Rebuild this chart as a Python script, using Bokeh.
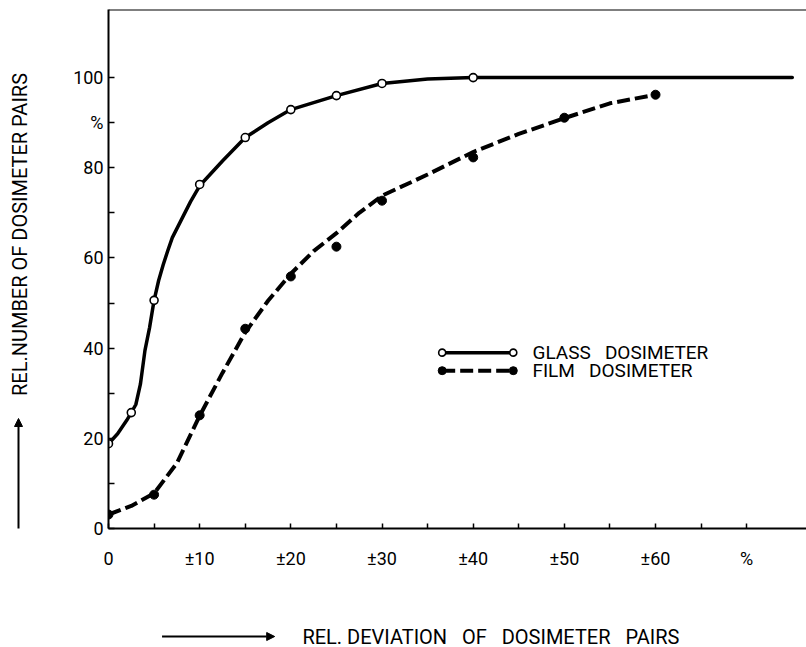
from bokeh.plotting import figure
from bokeh.layouts import row, column
from bokeh.models import Range1d, FixedTicker, Label, Arrow, NormalHead, Span
from bokeh.embed import file_html
from bokeh.resources import INLINE

glass_x = [0, 2.5, 5, 10, 15, 20, 25, 30, 40]
glass_y = [18.8, 25.7, 50.6, 76.3, 86.7, 92.9, 96.0, 98.7, 100]
film_x = [0, 5, 10, 15, 20, 25, 30, 40, 50, 60]
film_y = [3.1, 7.5, 25.1, 44.3, 55.9, 62.5, 72.7, 82.3, 91.1, 96.2]

# drawn curves
glass_curve_x = [0, 1, 2, 2.5, 3, 3.5, 4, 4.5, 5, 5.5, 6, 6.5, 7, 8, 9, 10, 12.5, 15, 17.5, 20, 25, 30, 35, 40, 75]
glass_curve_y = [18.8, 21, 24, 25.7, 27.5, 32, 39.5, 44.5, 50.6, 55, 58.5, 61.6, 64.5, 68.5, 72.5, 76, 81.5, 86.7, 90, 92.9, 96, 98.7, 99.7, 100, 100]
film_curve_x = [0, 2.5, 5, 7.5, 10, 12.5, 15, 17.5, 20, 22.5, 25, 27.5, 30, 35, 40, 45, 50, 55, 60]
film_curve_y = [3.1, 5, 7.8, 14.5, 25, 34.5, 43.5, 50.5, 56.5, 61.5, 65.5, 70, 73.8, 78.5, 83.5, 87.5, 91, 94.3, 96.2]

x_ticks = [0, 5, 10, 15, 20, 25, 30, 35, 40, 45, 50, 55, 60, 65, 70]
x_tick_labels = ["0", "", "±10", "", "±20", "", "±30", "", "±40", "", "±50", "", "±60", "", "%"]
y_ticks = [0, 10, 20, 30, 40, 50, 60, 70, 80, 90, 100]
y_tick_labels = ["0", "", "20", "", "40", "", "60", "", "80", "%", "100"]

x_title = "REL.\u00a0DEVIATION\u00a0\u00a0\u00a0OF\u00a0\u00a0\u00a0DOSIMETER\u00a0\u00a0\u00a0PAIRS"
y_title = "REL.NUMBER OF DOSIMETER PAIRS"
legend_labels = ["GLASS\u00a0\u00a0\u00a0DOSIMETER", "FILM\u00a0\u00a0\u00a0DOSIMETER"]

FONT = "Roboto"
X_END = 76.56
Y_END = 115.1
LEFT_W, MAIN_W = 50, 756
MAIN_H, BOTTOM_H = 580, 67
TOTAL_H = MAIN_H + BOTTOM_H


def strip(w, h):
    s = figure(width=w, height=h, output_backend="svg", toolbar_location=None,
               x_range=Range1d(0, w), y_range=Range1d(0, h),
               x_axis_location=None, y_axis_location=None,
               min_border_left=0, min_border_right=0, min_border_top=0, min_border_bottom=0)
    s.outline_line_color = None
    s.grid.visible = False
    return s


p = figure(width=MAIN_W, height=MAIN_H, output_backend="svg", toolbar_location=None,
           x_range=Range1d(0, X_END), y_range=Range1d(0, Y_END),
           min_border_left=58, min_border_right=0, min_border_top=9, min_border_bottom=52)
p.outline_line_color = None
p.grid.visible = False

for ax in (p.xaxis[0], p.yaxis[0]):
    ax.axis_line_width = 2
    ax.axis_line_color = "black"
    ax.major_tick_line_width = 1.5
    ax.major_tick_line_color = "black"
    ax.minor_tick_line_color = None
    ax.major_label_text_font = FONT
    ax.major_label_text_font_size = "18px"
    ax.major_label_text_color = "black"

p.xaxis.ticker = FixedTicker(ticks=x_ticks)
p.xaxis.major_label_overrides = {t: l for t, l in zip(x_ticks, x_tick_labels)}
p.xaxis.major_tick_in = 5
p.xaxis.major_tick_out = 0
p.xaxis.major_label_standoff = 19

p.yaxis.ticker = FixedTicker(ticks=y_ticks)
p.yaxis.major_label_overrides = {t: l for t, l in zip(y_ticks, y_tick_labels)}
p.yaxis.major_tick_in = 6
p.yaxis.major_tick_out = 0
p.yaxis.major_label_standoff = 5

p.add_layout(Span(location=Y_END, dimension="width", line_color="black", line_width=2))

# curves
p.line(glass_curve_x, glass_curve_y, line_color="black", line_width=3.5, line_join="round", line_cap="round")
p.line(film_curve_x, film_curve_y, line_color="black", line_width=4, line_dash="13 5")
p.scatter(glass_x, glass_y, marker="circle", size=8, fill_color="white", line_color="black", line_width=1.6)
p.scatter(film_x, film_y, marker="circle", size=9, fill_color="black", line_color="black")

# legend keys
leg_x = [36.6, 44.4]
p.line(leg_x, [39.0, 39.0], line_color="black", line_width=3.5)
p.scatter(leg_x, [39.0, 39.0], marker="circle", size=7, fill_color="white", line_color="black", line_width=1.6)
p.line(leg_x, [35.0, 35.0], line_color="black", line_width=4, line_dash="13 5")
p.scatter(leg_x, [35.0, 35.0], marker="circle", size=8, fill_color="black", line_color="black")
for yy, txt in zip([39.0, 35.0], legend_labels):
    p.add_layout(Label(x=46.5, y=yy, text=txt, text_font=FONT, text_font_size="19px",
                       text_baseline="middle", text_align="left", text_color="black"))

# left strip: vertical title with arrow
left = strip(LEFT_W, TOTAL_H)
left.add_layout(Label(x=19, y=413, text=y_title, angle=90, angle_units="deg",
                      text_font=FONT, text_font_size="20px",
                      text_align="center", text_baseline="middle", text_color="black"))
left.add_layout(Arrow(x_start=18, y_start=119, x_end=18, y_end=229, line_width=2,
                      end=NormalHead(size=8, fill_color="black", line_color="black")))

# bottom strip: horizontal title with arrow
bottom = strip(MAIN_W, BOTTOM_H)
bottom.add_layout(Label(x=210, y=11, text=x_title,
                        text_font=FONT, text_font_size="20px",
                        text_align="left", text_baseline="middle", text_color="black"))
bottom.add_layout(Arrow(x_start=58, y_start=11, x_end=180, y_end=11, line_width=2,
                        end=NormalHead(size=8, fill_color="black", line_color="black")))

layout = row(left, column(p, bottom, spacing=0), spacing=0)

open("out.html", "w").write(file_html(layout, INLINE))
